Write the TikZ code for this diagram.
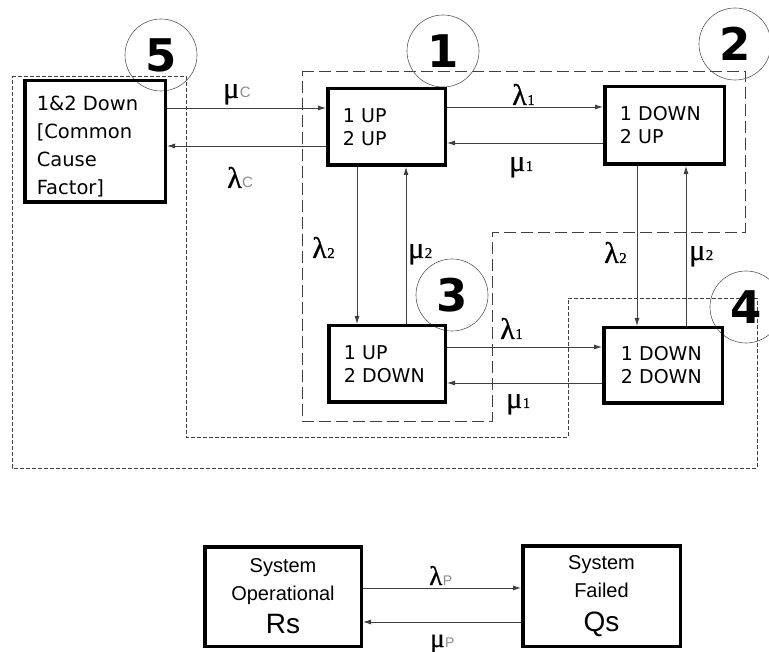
\documentclass[tikz,border=0pt]{standalone}
\usepackage{fontspec}
\newfontfamily\vfont{DejaVu Sans}
\newfontfamily\afont{Liberation Sans}
\newfontfamily\gfont[FakeBold=0.8]{Liberation Serif}
\usetikzlibrary{arrows.meta}
\newcommand\glab[2]{{\gfont\fontsize{30}{30}\selectfont #1\kern0.5pt{\fontsize{15}{15}\selectfont #2}}}
\newcommand\slab[2]{{\gfont\fontsize{30}{30}\selectfont #1\kern0.5pt{\afont\color{black!45}\fontsize{15}{15}\selectfont #2}}}
\newcommand\plab[2]{{\gfont\fontsize{27}{27}\selectfont #1\kern0.5pt{\afont\color{black!45}\fontsize{14}{14}\selectfont #2}}}
\tikzset{
  statebox/.style={draw, line width=3.5pt, align=left, inner ysep=0pt, inner xsep=15pt,
    font=\vfont\fontsize{19}{23}\selectfont},
  sysbox/.style={draw, line width=3.5pt, align=center, inner sep=0pt,
    font=\afont\fontsize{20}{28}\selectfont},
  numcirc/.style={circle, draw=black!65, line width=0.6pt, minimum size=72pt, inner sep=0pt,
    font=\vfont\bfseries\fontsize{45}{45}\selectfont},
  conn/.style={draw=black!75, line width=0.8pt, -{Latex[length=8pt,width=5pt]}},
  regionA/.style={draw=black!75, line width=0.7pt, dash pattern=on 12pt off 5pt},
  regionB/.style={draw=black!75, line width=0.7pt, dash pattern=on 4pt off 2pt},
  lab/.style={inner sep=0pt, anchor=base west}
}
\begin{document}
\begin{tikzpicture}[x=1pt,y=-1pt]
\useasboundingbox (0,0) rectangle (769,652);
% regions
\draw[regionA] (302,71) -- (745,71) -- (745,232) -- (492,232) -- (492,421) -- (302,421) -- cycle;
\draw[regionB] (12,76) -- (186,76) -- (186,437) -- (568,437) -- (568,298) -- (757,298) -- (757,468) -- (12,468) -- cycle;
% number circles
\node[numcirc] (c5) at (161,55) {5};
\node[numcirc] (c1) at (443,51) {1};
\node[numcirc] (c2) at (735,44) {2};
\node[numcirc] (c3) at (452,295) {3};
\node[numcirc] (c4) at (746,307) {4};
% state boxes
\node[statebox, minimum width=117.5pt, minimum height=76.5pt, text width=87.5pt] (b1) at (386.5,127) {1 UP\\2 UP};
\node[statebox, minimum width=119.5pt, minimum height=77.5pt, text width=89.5pt] (b2) at (664.5,125.5) {1 DOWN\\2 UP};
\node[statebox, minimum width=116.5pt, minimum height=76.5pt, text width=86.5pt] (b3) at (387,364) {1 UP\\2 DOWN\\[-2pt]};
\node[statebox, minimum width=118.5pt, minimum height=75.5pt, text width=84.5pt, inner xsep=17pt] (b4) at (663,365.5) {1 DOWN\\2 DOWN};
\node[statebox, minimum width=140.5pt, minimum height=121.5pt, inner xsep=12pt, align=center,
  font=\vfont\fontsize{19.5}{28}\selectfont] (b5) at (95,141.5)
  {\makebox[116.5pt][l]{\raisebox{-5.5pt}[\height][\depth]{\begin{tabular}{@{}l@{}}1\&2 Down\\{[}Common\\Cause\\Factor{]}\end{tabular}}}};
% system boxes
\node[sysbox, minimum width=156.5pt, minimum height=99.5pt] (rs) at (283,596.5)
  {System\\Operational\\[5pt]{\fontsize{28}{30}\selectfont Rs}};
\node[sysbox, minimum width=157.5pt, minimum height=100.5pt] (qs) at (601.5,596)
  {System\\Failed\\[6pt]{\fontsize{28}{30}\selectfont Qs}};
% connectors
\draw[conn] (b5.east |- 0,108) -- (b1.west |- 0,108);
\draw[conn] (b1.west |- 0,146) -- (b5.east |- 0,146);
\draw[conn] (b1.east |- 0,107) -- (b2.west |- 0,107);
\draw[conn] (b2.west |- 0,143) -- (b1.east |- 0,143);
\draw[conn] (b3.east |- 0,347) -- (b4.west |- 0,347);
\draw[conn] (b4.west |- 0,383) -- (b3.east |- 0,383);
\draw[conn] (b1.south -| 357,0) -- (b3.north -| 357,0);
\draw[conn] (b3.north -| 406,0) -- (b1.south -| 406,0);
\draw[conn] (b2.south -| 637,0) -- (b4.north -| 637,0);
\draw[conn] (b4.north -| 686,0) -- (b2.south -| 686,0);
\draw[conn] (rs.east |- 0,588) -- (qs.west |- 0,588);
\draw[conn] (qs.west |- 0,622) -- (rs.east |- 0,622);
% labels
\node[lab] (lmuc) at (223,98) {\slab{μ}{C}};
\node[lab] (llac) at (227,188) {\slab{λ}{C}};
\node[lab] (lla1a) at (512,105) {\glab{λ}{1}};
\node[lab] (lmu1a) at (509,171) {\glab{μ}{1}};
\node[lab] (lla2a) at (312,258) {\glab{λ}{2}};
\node[lab] (lmu2a) at (408,258) {\glab{μ}{2}};
\node[lab] (lla2b) at (604,263) {\glab{λ}{2}};
\node[lab] (lmu2b) at (689,260) {\glab{μ}{2}};
\node[lab] (lla1b) at (500,339) {\glab{λ}{1}};
\node[lab] (lmu1b) at (506,408) {\glab{μ}{1}};
\node[lab] (llap) at (429,585) {\plab{λ}{P}};
\node[lab] (lmup) at (430,647) {\plab{μ}{P}};
\end{tikzpicture}
\end{document}
